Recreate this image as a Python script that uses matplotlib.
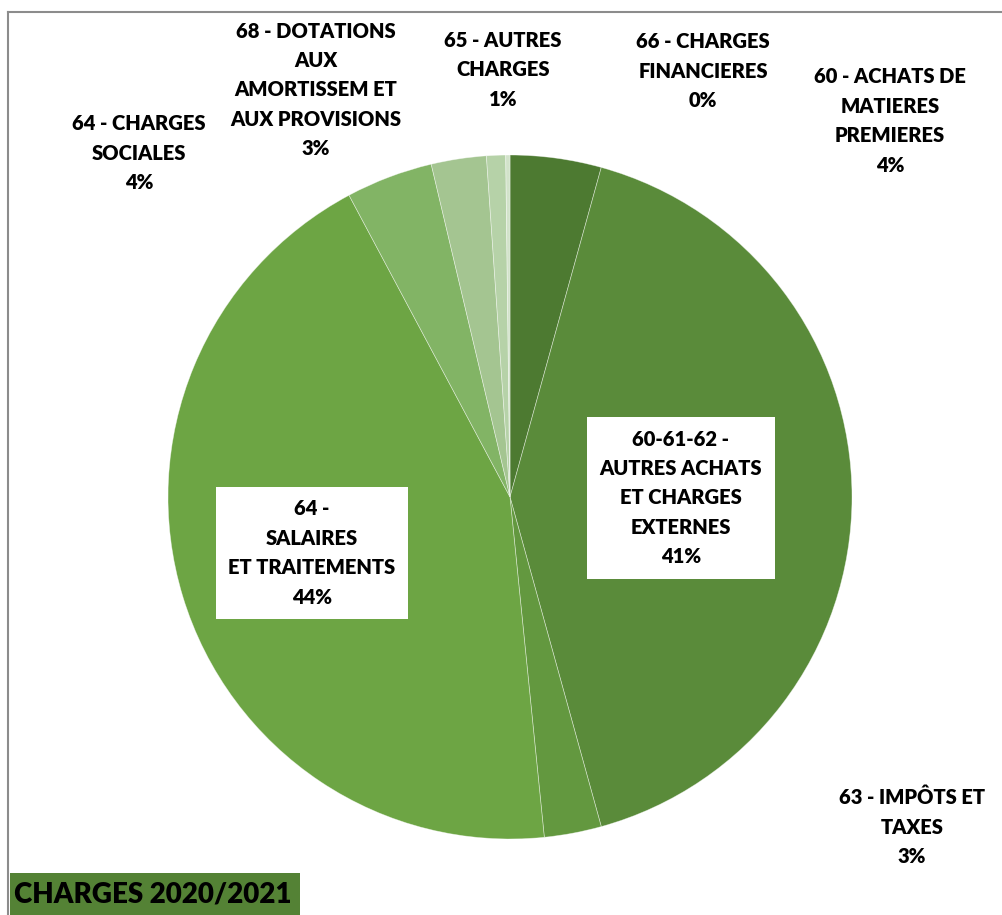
import matplotlib.pyplot as plt
from matplotlib.lines import Line2D
from matplotlib.patches import Rectangle

# Données : répartition des charges 2020/2021 (en %)
categories = [
    "60 - ACHATS DE\nMATIERES\nPREMIERES",
    "60-61-62 -\nAUTRES ACHATS\nET CHARGES\nEXTERNES",
    "63 - IMPÔTS ET\nTAXES",
    "64 -\nSALAIRES\nET TRAITEMENTS",
    "64 - CHARGES\nSOCIALES",
    "68 - DOTATIONS\nAUX\nAMORTISSEM ET\nAUX PROVISIONS",
    "65 - AUTRES\nCHARGES",
    "66 - CHARGES\nFINANCIERES",
]
values = [4.3, 41.4, 2.7, 43.8, 4.1, 2.6, 0.9, 0.2]
colors = ["#4D7A31", "#5A8B3A", "#63983F", "#6DA544",
          "#82B465", "#A4C591", "#B6D2A8", "#D2E3CA"]

# position des étiquettes (pixels de l'image) et cadre blanc ou non
label_px = [(890, 121), (681, 498), (912, 827), (312, 553),
            (139, 153), (316, 90), (503, 70), (703, 71)]
label_box = [False, True, False, True, False, False, False, False]

W, H = 1002, 915
cx, cy, r = 510, 497, 342

fig = plt.figure(figsize=(W / 100, H / 100), dpi=100)
ax = fig.add_axes([(cx - r) / W, (H - cy - r) / H, 2 * r / W, 2 * r / H])

wedges, _ = ax.pie(values, colors=colors, startangle=90, counterclock=False,
                   radius=1, wedgeprops=dict(edgecolor=(1, 1, 1, 0.5), linewidth=0.5))
ax.set_xlim(-1, 1)
ax.set_ylim(-1, 1)
ax.set_aspect("equal")
ax.axis("off")

total = sum(values)
for i, cat in enumerate(categories):
    px, py = label_px[i]
    x = (px - cx) / r
    y = (cy - py) / r
    txt = f"{cat}\n{round(values[i] / total * 100):.0f}%"
    kw = {}
    if label_box[i]:
        kw["bbox"] = dict(facecolor="white", edgecolor="none", pad=9)
    ax.text(x, y, txt, ha="center", va="center", fontsize=14.5,
            fontweight="heavy", family="Lato", color="black",
            linespacing=1.65, clip_on=False, **kw)

# cadre gris (haut et gauche)
fig.add_artist(Line2D([8 / W, 1], [1 - 12 / H, 1 - 12 / H], color="#8C8C8C", lw=1.5))
fig.add_artist(Line2D([8 / W, 8 / W], [0, 1 - 12 / H], color="#8C8C8C", lw=1.5))

# titre en bas à gauche
fig.add_artist(Rectangle((10 / W, 0), 290 / W, 42 / H, transform=fig.transFigure,
                         facecolor="#548235", edgecolor="none"))
fig.text(153 / W, 20 / H, "CHARGES 2020/2021", ha="center", va="center",
         fontsize=20, fontweight="heavy", family="Lato", color="black")

fig.savefig("out.png", dpi=100)
